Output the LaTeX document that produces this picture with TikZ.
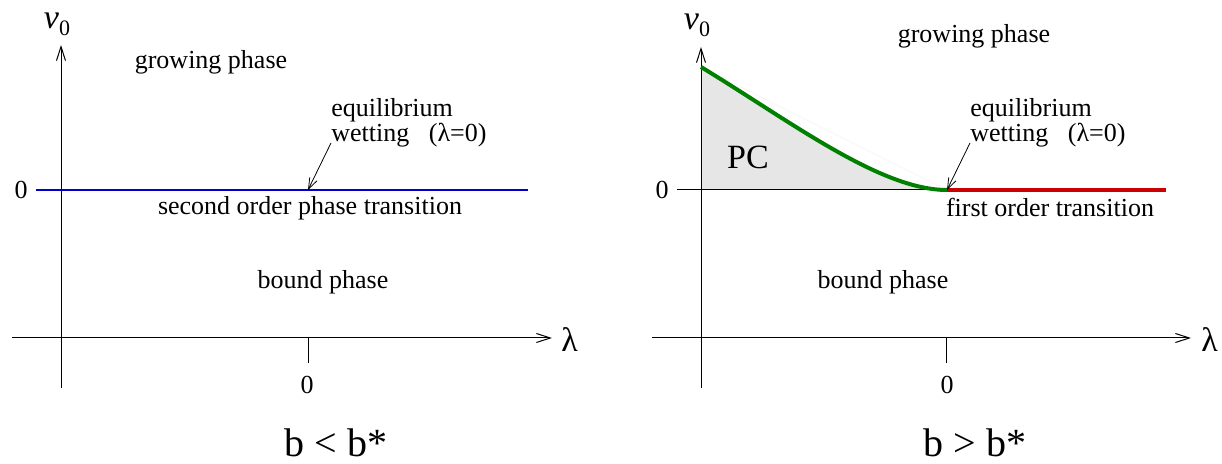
\documentclass[tikz,border=0pt]{standalone}
\usepackage{fontspec}
\setmainfont{Liberation Serif}
\usetikzlibrary{positioning,arrows.meta}
\definecolor{wetblue}{HTML}{0000CC}
\definecolor{pcgreen}{HTML}{008000}
\definecolor{fored}{HTML}{CC0000}
\definecolor{pcfill}{HTML}{E6E6E6}

\begin{document}
\begin{tikzpicture}[x=0.5pt, y=-0.5pt,
  ax/.style={-{Straight Barb[length=7pt,width=4.5pt]}, line width=0.5pt},
  ptr/.style={-{Straight Barb[length=5.5pt,width=4pt]}, line width=0.4pt},
  lab/.style={font=\fontsize{13}{12.5}\selectfont, inner sep=0pt, align=left},
  axl/.style={font=\fontsize{17}{17}\selectfont, inner sep=0pt},
  cas/.style={font=\fontsize{20}{20}\selectfont, inner sep=0pt}]
\useasboundingbox (0,0) rectangle (1222,464);

% left panel, b < b*
\coordinate (xL0) at (12,338);
\coordinate (xL1) at (552,338);
\coordinate (yL0) at (61,388);
\coordinate (yL1) at (61,45);
\coordinate (tL0) at (308,338);
\coordinate (tL1) at (308,363);
\coordinate (bL0) at (36,190);
\coordinate (bL1) at (528,190);
\coordinate (wL) at (331,143);
\coordinate (zL) at (308,190);
\draw[ax] (xL0) -- (xL1);
\draw[ax] (yL0) -- (yL1);
\draw[line width=0.5pt] (tL0) -- (tL1);
\draw[wetblue, line width=0.8pt] (bL0) -- (bL1);
\node[axl, anchor=west] (lamL) at (561,340) {λ};
\node[axl] (vL) at (57,24) {\itshape v\raisebox{-0.45ex}{\fontsize{11}{11}\selectfont\upshape 0}};
\node[lab] (zeroL) at (21,190) {0};
\node[lab] (tickL) at (307,385) {0};
\node[lab] (growL) at (211,62) {growing phase};
\node[lab, anchor=north west] (eqL) at (331,98) {equilibrium\\wetting\hspace{0.75em}(λ=0)};
\node[lab] (secL) at (310,208) {second order phase transition};
\node[lab] (bndL) at (323,282) {bound phase};
\node[cas] (caseL) at (336,443) {b < b*};
\draw[ptr] (wL) -- (zL);

% right panel, b > b*
\coordinate (xR0) at (652,338);
\coordinate (xR1) at (1191,338);
\coordinate (yR0) at (701,388);
\coordinate (yR1) at (701,47);
\coordinate (tR0) at (946,338);
\coordinate (tR1) at (946,363);
\coordinate (pc0) at (701,67);
\coordinate (pc1) at (947,190);
\coordinate (fo1) at (1166,190);
\coordinate (zR0) at (677,190);
\coordinate (wR) at (970,143);
\fill[pcfill] (pc0) .. controls (790,121) and (880,190) .. (pc1) -- (701,190) -- cycle;
\draw[black!8, line width=0.2pt] (pc0) -- (pc1);
\draw[line width=0.5pt] (zR0) -- (pc1);
\draw[ax] (xR0) -- (xR1);
\draw[ax] (yR0) -- (yR1);
\draw[line width=0.5pt] (tR0) -- (tR1);
\draw[pcgreen, line width=2pt] (pc0) .. controls (790,121) and (880,190) .. (pc1);
\draw[fored, line width=2pt] (pc1) -- (fo1);
\node[axl, anchor=west] (lamR) at (1201,340) {λ};
\node[axl] (vR) at (697,25) {\itshape v\raisebox{-0.45ex}{\fontsize{11}{11}\selectfont\upshape 0}};
\node[lab] (zeroR) at (662,190) {0};
\node[lab] (tickR) at (947,385) {0};
\node[lab] (growR) at (974,36) {growing phase};
\node[axl] (pcR) at (748,157) {PC};
\node[lab, anchor=north west] (eqR) at (970,98) {equilibrium\\wetting\hspace{0.75em}(λ=0)};
\node[lab] (firR) at (1050,207) {first order transition};
\node[lab] (bndR) at (883,282) {bound phase};
\node[cas] (caseR) at (975,443) {b > b*};
\draw[ptr] (wR) -- (pc1);
\end{tikzpicture}
\end{document}
